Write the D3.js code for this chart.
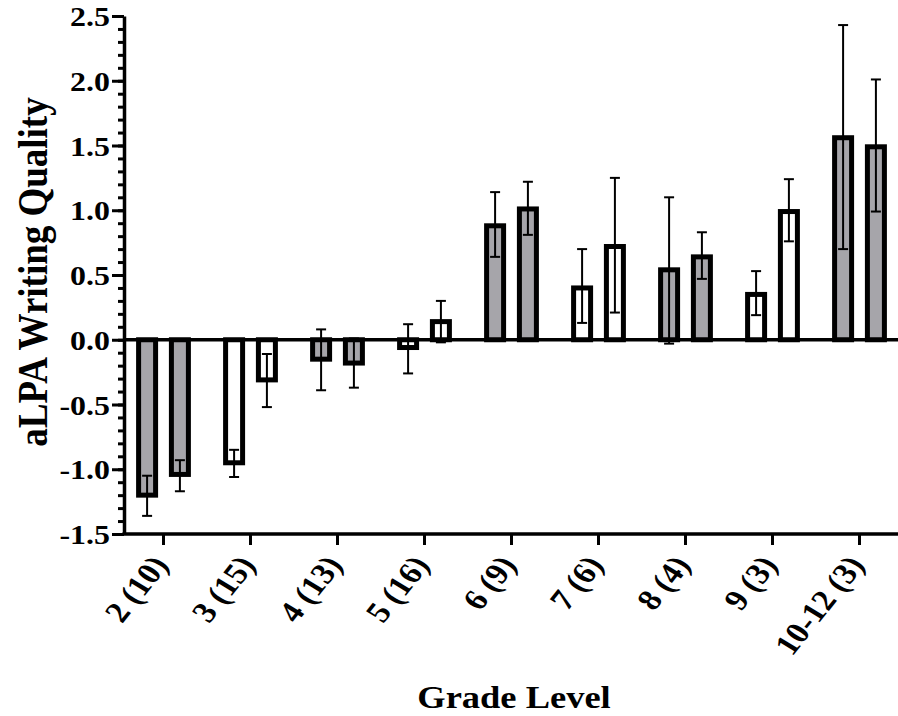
<!DOCTYPE html>
<html>
<head>
<meta charset="utf-8">
<script src="https://cdn.jsdelivr.net/npm/d3@7"></script>
<style>
  body { margin: 0; background: #fff; }
  svg { display: block; }
  text { font-family: "Liberation Serif", "Times New Roman", serif; font-weight: bold; fill: #000; }
</style>
</head>
<body>
<div id="grafica"></div>
<script>
// data
const categories = ["2 (10)", "3 (15)", "4 (13)", "5 (16)", "6 (9)", "7 (6)", "8 (4)", "9 (3)", "10-12 (3)"]
const groupFill = ["gray", "white", "gray", "white", "gray", "white", "gray", "white", "gray"]

const meanA  = [-1.20, -0.95, -0.15, -0.06, 0.88, 0.40, 0.54, 0.35, 1.56]
const upperA = [-1.05, -0.85, 0.08, 0.12, 1.14, 0.70, 1.10, 0.53, 2.43]
const lowerA = [-1.36, -1.06, -0.39, -0.26, 0.64, 0.13, -0.03, 0.19, 0.70]

const meanB  = [-1.04, -0.31, -0.18, 0.14, 1.01, 0.72, 0.64, 0.99, 1.49]
const upperB = [-0.93, -0.11, 0.01, 0.30, 1.22, 1.25, 0.83, 1.24, 2.01]
const lowerB = [-1.17, -0.52, -0.37, -0.02, 0.81, 0.21, 0.47, 0.76, 0.99]

const yTicks = [-1.5, -1.0, -0.5, 0.0, 0.5, 1.0, 1.5, 2.0, 2.5]
const yMinorTicks = d3.range(-15, 26).map(d => d / 10)

const colors = { gray: "#a6a5aa", white: "#ffffff" }
const stretch = 1.14

const svgWidth = 898
const svgHeight = 716
const axisLeftX = 124
const axisRightX = 898

const bars = []
categories.forEach((c, i) => {
    bars.push({ cat: c, s: "A", v: meanA[i], hi: upperA[i], lo: lowerA[i], fill: groupFill[i] })
    bars.push({ cat: c, s: "B", v: meanB[i], hi: upperB[i], lo: lowerB[i], fill: groupFill[i] })
})

const scaleX = d3.scaleBand()
    .domain(categories)
    .range([120, 903])

const scaleInner = d3.scaleBand()
    .domain(["A", "B"])
    .range([0, scaleX.bandwidth()])
    .paddingInner(0.482)
    .paddingOuter(0.567)

const scaleY = d3.scaleLinear()
    .domain([-1.5, 2.5])
    .range([534, 16])

const svg = d3.select('#grafica')
    .append('svg')
    .attr('width', svgWidth)
    .attr('height', svgHeight)

// barras
svg.selectAll('.bar')
    .data(bars)
    .enter()
    .append('rect')
    .attr('class', 'bar')
    .attr('x', d => scaleX(d.cat) + scaleInner(d.s))
    .attr('width', scaleInner.bandwidth())
    .attr('y', d => scaleY(Math.max(0, d.v)))
    .attr('height', d => Math.abs(scaleY(d.v) - scaleY(0)))
    .style('fill', d => colors[d.fill])
    .style('stroke', '#000')
    .style('stroke-width', 5)

// error bars
const cx = d => scaleX(d.cat) + scaleInner(d.s) + scaleInner.bandwidth() / 2
const err = svg.append('g')
    .style('stroke', '#000')
    .style('stroke-width', 2)
err.selectAll('.ev').data(bars).enter().append('line')
    .attr('x1', cx).attr('x2', cx)
    .attr('y1', d => scaleY(d.hi)).attr('y2', d => scaleY(d.lo))
err.selectAll('.eh').data(bars).enter().append('line')
    .attr('x1', d => cx(d) - 5).attr('x2', d => cx(d) + 5)
    .attr('y1', d => scaleY(d.hi)).attr('y2', d => scaleY(d.hi))
err.selectAll('.el').data(bars).enter().append('line')
    .attr('x1', d => cx(d) - 5).attr('x2', d => cx(d) + 5)
    .attr('y1', d => scaleY(d.lo)).attr('y2', d => scaleY(d.lo))

// zero line
svg.append('line')
    .attr('x1', axisLeftX).attr('x2', axisRightX)
    .attr('y1', scaleY(0)).attr('y2', scaleY(0))
    .style('stroke', '#000').style('stroke-width', 3.5)

// eje Y
const axisYMinor = d3.axisLeft(scaleY).tickValues(yMinorTicks).tickSize(6).tickFormat('')
const yMinor = svg.append('g')
    .attr('transform', `translate(${axisLeftX},0)`)
    .call(axisYMinor)
yMinor.select('.domain').remove()
yMinor.selectAll('line').style('stroke-width', 3)

const axisY = d3.axisLeft(scaleY).tickValues(yTicks).tickSize(12).tickSizeOuter(0).tickFormat(d => d.toFixed(1))
const yAxis = svg.append('g')
    .attr('transform', `translate(${axisLeftX},0)`)
    .call(axisY)
yAxis.select('.domain').style('stroke-width', 3.5)
yAxis.selectAll('line').style('stroke-width', 3)
yAxis.selectAll('text')
    .attr('x', null).attr('dy', null)
    .attr('transform', d => `translate(-14,9.5) scale(${stretch},1)`)
    .style('font-size', '28px')
    .style('font-family', '"Liberation Serif", serif')

// eje X
const axisX = d3.axisBottom(scaleX).tickSize(11).tickSizeOuter(0)
const xAxis = svg.append('g')
    .attr('transform', `translate(0,${scaleY(-1.5)})`)
    .call(axisX)
xAxis.select('.domain').remove()
xAxis.selectAll('line').style('stroke-width', 3)
xAxis.selectAll('text')
    .attr('y', null).attr('dy', null)
    .attr('text-anchor', 'end')
    .attr('transform', `translate(6,31) scale(${stretch},1) rotate(-55)`)
    .style('font-size', '30px')
    .style('font-family', '"Liberation Serif", serif')

svg.append('line')
    .attr('x1', axisLeftX - 1.5).attr('x2', axisRightX)
    .attr('y1', scaleY(-1.5)).attr('y2', scaleY(-1.5))
    .style('stroke', '#000').style('stroke-width', 3.5)

// titulos
svg.append('text')
    .attr('transform', `translate(47,272) scale(${stretch},1) rotate(-90)`)
    .attr('text-anchor', 'middle')
    .style('font-size', '37px')
    .text('aLPA Writing Quality')

svg.append('text')
    .attr('transform', `translate(514,708) scale(${stretch},1)`)
    .attr('text-anchor', 'middle')
    .style('font-size', '32px')
    .text('Grade Level')
</script>
</body>
</html>
